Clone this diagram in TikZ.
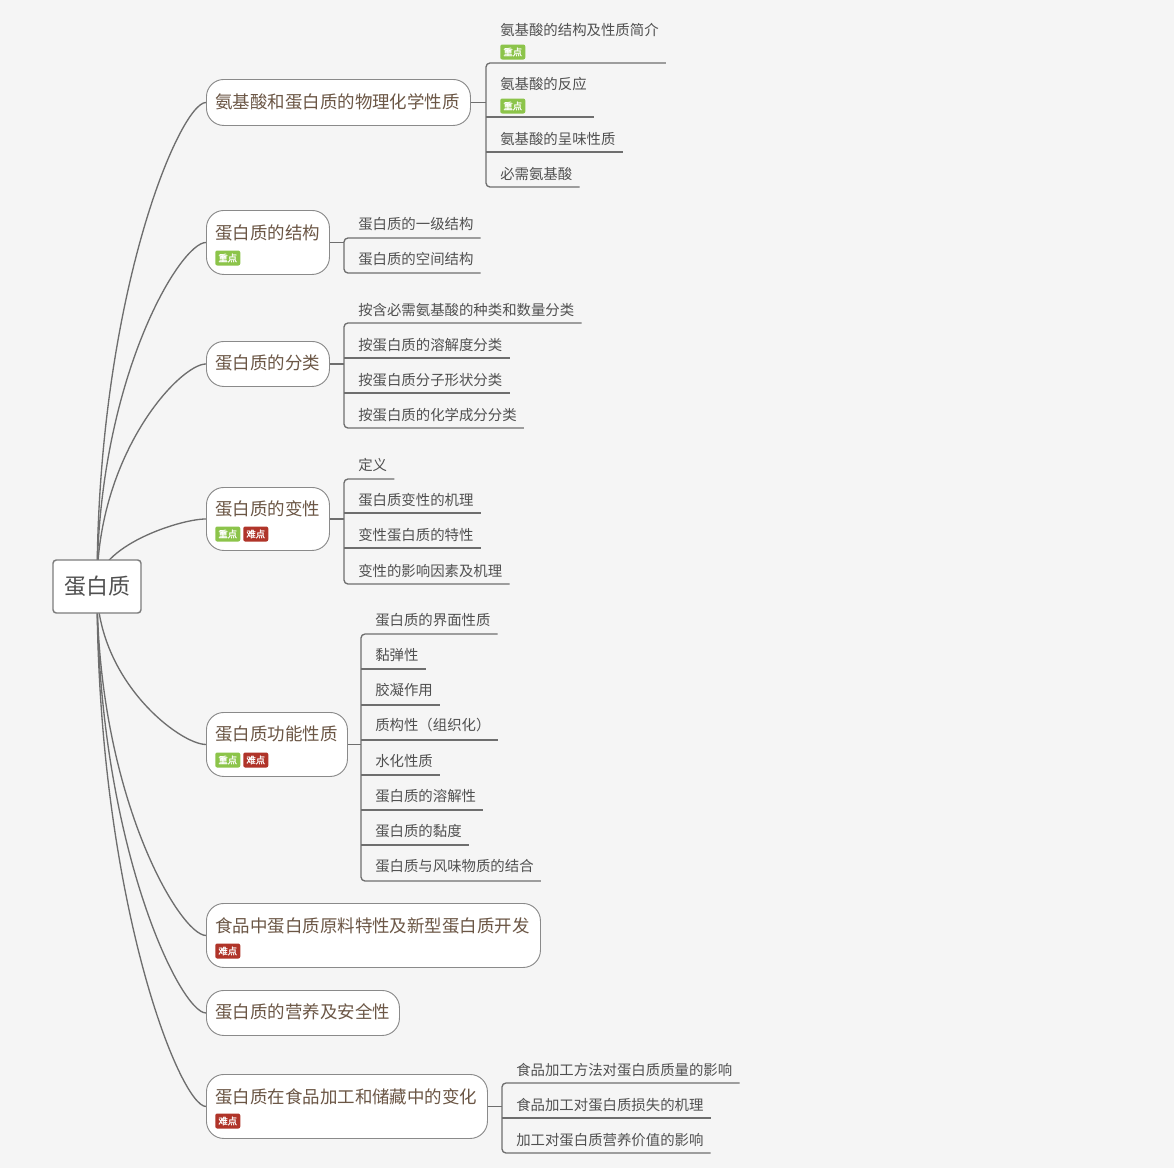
\documentclass[tikz,border=0pt]{standalone}
\usepackage{fontspec}
\setmainfont{Noto Sans CJK SC}
\newfontfamily\tagfont{Noto Sans CJK SC}[FakeBold=1.2]
\usetikzlibrary{calc}

\definecolor{paper}{HTML}{F5F5F5}
\definecolor{linkgray}{HTML}{6E6E6E}
\definecolor{boxgray}{HTML}{8A8A8A}
\definecolor{titlebrown}{HTML}{6B5645}
\definecolor{leafgray}{HTML}{505050}
\definecolor{keygreen}{HTML}{8CC44A}
\definecolor{hardred}{HTML}{B03429}

\pgfdeclarelayer{linklayer}
\pgfsetlayers{linklayer,main}

\tikzset{
  link/.style={draw=linkgray, line width=1pt},
  rootbox/.style={draw=boxgray!90!black, line width=1.1pt, fill=white, rounded corners=2.5pt,
    minimum width=66pt, minimum height=39.75pt, text=leafgray, font=\fontsize{16.5pt}{18pt}\selectfont},
  mainbox/.style={draw=boxgray, line width=0.7pt, fill=white, rounded corners=13pt,
    anchor=north west, inner sep=0pt},
  maintext/.style={anchor=west, inner sep=0pt, text=titlebrown, font=\fontsize{13.1pt}{15pt}\selectfont},
  leaf/.style={anchor=west, inner xsep=5.25pt, inner ysep=0pt, text=leafgray, font=\fontsize{10.8pt}{12pt}\selectfont},
  tagbox/.style={anchor=west, inner sep=0pt, minimum width=18.75pt, minimum height=11.25pt,
    rounded corners=1.5pt, text=white, font=\tagfont\fontsize{7pt}{7pt}\selectfont},
  keytag/.style={tagbox, fill=keygreen},
  hardtag/.style={tagbox, fill=hardred}
}

\begin{document}
\begin{tikzpicture}[x=0.75pt, y=-0.75pt]
    \useasboundingbox (0,0) rectangle (1174,1168);
    \begin{pgfonlayer}{linklayer}
      \fill[paper] (0,0) rectangle (1174,1168);
    \end{pgfonlayer}

    % Root
    \node[rootbox] (root) at (97,586.5) {蛋白质};

    % Branch 1
    \node[mainbox, minimum width=198pt, minimum height=34.5pt] (m1) at (206,79) {};
    \node[maintext] (mt1) at (215,102) {氨基酸和蛋白质的物理化学性质};
    \node[leaf] (c11) at (493,30) {氨基酸的结构及性质简介};
    \node[keytag] (t11) at (500,52) {重点};
    \node[leaf] (c12) at (493,84) {氨基酸的反应};
    \node[keytag] (t12) at (500,106) {重点};
    \node[leaf] (c13) at (493,139) {氨基酸的呈味性质};
    \node[leaf] (c14) at (493,174) {必需氨基酸};
    \draw[link] (m1.east) -- (m1.east -| 486,0);
    \draw[link, rounded corners=3pt] (c11.east |- 0,63) -- (486,63) -- (486,187) -- (c14.east |- 0,187);
    \draw[link] (486,117) -- (c12.east |- 0,117);
    \draw[link] (486,152) -- (c13.east |- 0,152);

    % Branch 2
    \node[mainbox, minimum width=92.25pt, minimum height=48pt] (m2) at (206,210) {};
    \node[maintext] (mt2) at (215,233) {蛋白质的结构};
    \node[keytag] (t2) at (215,258) {重点};
    \node[leaf] (c21) at (351,224) {蛋白质的一级结构};
    \node[leaf] (c22) at (351,259) {蛋白质的空间结构};
    \draw[link] (m2.east) -- (m2.east -| 344,0);
    \draw[link, rounded corners=3pt] (c21.east |- 0,238) -- (344,238) -- (344,273) -- (c22.east |- 0,273);

    % Branch 3
    \node[mainbox, minimum width=92.25pt, minimum height=33.75pt] (m3) at (206,341) {};
    \node[maintext] (mt3) at (215,363) {蛋白质的分类};
    \node[leaf] (c31) at (351,310) {按含必需氨基酸的种类和数量分类};
    \node[leaf] (c32) at (351,345) {按蛋白质的溶解度分类};
    \node[leaf] (c33) at (351,380) {按蛋白质分子形状分类};
    \node[leaf] (c34) at (351,415) {按蛋白质的化学成分分类};
    \draw[link] (m3.east) -- (m3.east -| 344,0);
    \draw[link, rounded corners=3pt] (c31.east |- 0,323) -- (344,323) -- (344,428) -- (c34.east |- 0,428);
    \draw[link] (344,358) -- (c32.east |- 0,358);
    \draw[link] (344,393) -- (c33.east |- 0,393);

    % Branch 4
    \node[mainbox, minimum width=92.25pt, minimum height=47.25pt] (m4) at (206,487) {};
    \node[maintext] (mt4) at (215,509) {蛋白质的变性};
    \node[keytag] (t4a) at (215,534) {重点};
    \node[hardtag] (t4b) at (243,534) {难点};
    \node[leaf] (c41) at (351,465) {定义};
    \node[leaf] (c42) at (351,500) {蛋白质变性的机理};
    \node[leaf] (c43) at (351,535) {变性蛋白质的特性};
    \node[leaf] (c44) at (351,571) {变性的影响因素及机理};
    \draw[link] (m4.east) -- (m4.east -| 344,0);
    \draw[link, rounded corners=3pt] (c41.east |- 0,479) -- (344,479) -- (344,584) -- (c44.east |- 0,584);
    \draw[link] (344,513) -- (c42.east |- 0,513);
    \draw[link] (344,548) -- (c43.east |- 0,548);

    % Branch 5
    \node[mainbox, minimum width=105.75pt, minimum height=48pt] (m5) at (206,712) {};
    \node[maintext] (mt5) at (215,734) {蛋白质功能性质};
    \node[keytag] (t5a) at (215,760) {重点};
    \node[hardtag] (t5b) at (243,760) {难点};
    \node[leaf] (c51) at (368,620) {蛋白质的界面性质};
    \node[leaf] (c52) at (368,655) {黏弹性};
    \node[leaf] (c53) at (368,690) {胶凝作用};
    \node[leaf] (c54) at (368,725) {质构性（组织化）};
    \node[leaf] (c55) at (368,761) {水化性质};
    \node[leaf] (c56) at (368,796) {蛋白质的溶解性};
    \node[leaf] (c57) at (368,831) {蛋白质的黏度};
    \node[leaf] (c58) at (368,866) {蛋白质与风味物质的结合};
    \draw[link] (m5.east) -- (m5.east -| 361,0);
    \draw[link, rounded corners=3pt] (c51.east |- 0,634) -- (361,634) -- (361,881) -- (c58.east |- 0,881);
    \draw[link] (361,669) -- (c52.east |- 0,669);
    \draw[link] (361,705) -- (c53.east |- 0,705);
    \draw[link] (361,740) -- (c54.east |- 0,740);
    \draw[link] (361,775) -- (c55.east |- 0,775);
    \draw[link] (361,810) -- (c56.east |- 0,810);
    \draw[link] (361,845) -- (c57.east |- 0,845);

    % Branch 6
    \node[mainbox, minimum width=250.5pt, minimum height=48pt] (m6) at (206,903) {};
    \node[maintext] (mt6) at (215,926) {食品中蛋白质原料特性及新型蛋白质开发};
    \node[hardtag] (t6) at (215,951) {难点};

    % Branch 7
    \node[mainbox, minimum width=144.75pt, minimum height=33.75pt] (m7) at (206,990) {};
    \node[maintext] (mt7) at (215,1012) {蛋白质的营养及安全性};

    % Branch 8
    \node[mainbox, minimum width=210.75pt, minimum height=48pt] (m8) at (206,1074) {};
    \node[maintext] (mt8) at (215,1097) {蛋白质在食品加工和储藏中的变化};
    \node[hardtag] (t8) at (215,1121) {难点};
    \node[leaf] (c81) at (509,1070) {食品加工方法对蛋白质质量的影响};
    \node[leaf] (c82) at (509,1105) {食品加工对蛋白质损失的机理};
    \node[leaf] (c83) at (509,1140) {加工对蛋白质营养价值的影响};
    \draw[link] (m8.east) -- (m8.east -| 502,0);
    \draw[link, rounded corners=3pt] (c81.east |- 0,1083) -- (502,1083) -- (502,1153) -- (c83.east |- 0,1153);
    \draw[link] (502,1118) -- (c82.east |- 0,1118);

    % Curves from the root
    \begin{pgfonlayer}{linklayer}
      \foreach \m in {m1,m2,m3,m4,m5,m6,m7,m8}
        \draw[link] (root.center) .. controls ($(root.center)!0.6!(root.center |- \m.west)$) and ($(\m.west)+(-26,0)$) .. (\m.west);
    \end{pgfonlayer}
  \end{tikzpicture}
\end{document}
